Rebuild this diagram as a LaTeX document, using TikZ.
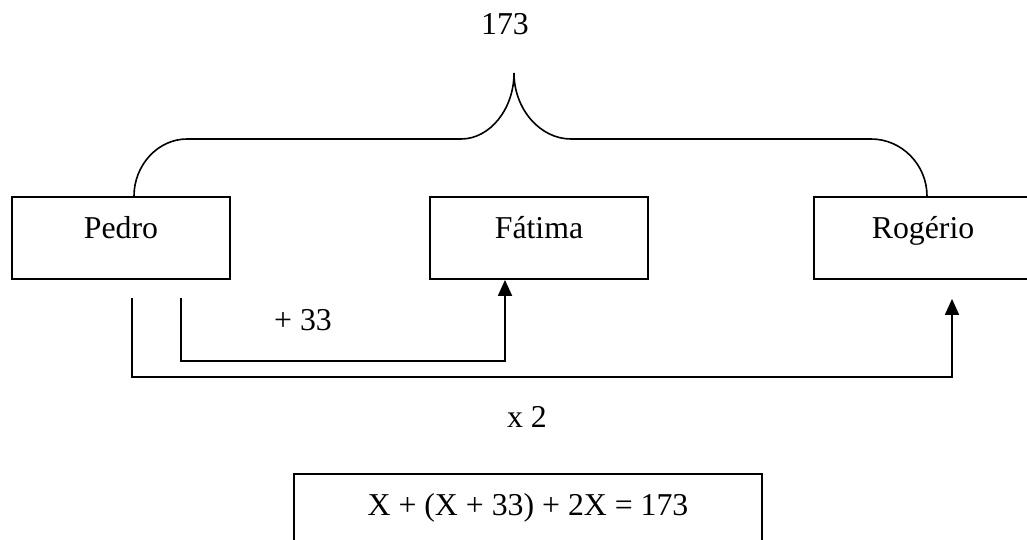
\documentclass[tikz,border=0pt]{standalone}
\usepackage{fontspec}
\setmainfont{Liberation Serif}
\usetikzlibrary{arrows.meta,calc}

\begin{document}
\begin{tikzpicture}[
 x=0.5pt,y=-0.5pt,
 every node/.style={font=\fontsize{15.9}{19}\selectfont},
 person/.style={draw,line width=0.9pt,minimum width=109pt,minimum height=41pt,
  inner sep=0pt,text height=6pt,text depth=6pt},
 link/.style={line width=0.9pt,-{Triangle[length=8pt,width=7pt]}}
]
 \useasboundingbox (0,0) rectangle (1027,540);

 \node[person] (pedro) at (121,238) {Pedro};
 \node[person] (fatima) at (539,238) {Fátima};
 \node[person] (rogerio) at (923,238) {Rogério};
 \node[person,minimum width=234pt] (eq) at (528,515) {X + (X + 33) + 2X = 173};

 % brace over the three boxes
 \coordinate (peak) at (514,73);
 \node (total) at (505,24) {173};
 \draw[line width=0.8pt] ($(pedro.north)+(13,0)$)
  .. controls (134,165) and (158,139) .. (187,139) -- (461,139)
  .. controls (490,139) and (514,109) .. (peak)
  .. controls (514,109) and (540,139) .. (571,139) -- (871,139)
  .. controls (902,139) and (927,165) .. ($(rogerio.north)+(4,0)$);

 % Pedro -> Fatima and Pedro -> Rogerio
 \draw[link] ($(pedro.south)+(60,18)$) |- ($(fatima.south)+(-34,81)$)
  -- ($(fatima.south)+(-34,0)$);
 \draw[link] ($(pedro.south)+(11,18)$) |- ($(rogerio.south)+(29,97)$)
  -- ($(rogerio.south)+(29,19)$);

 \node (plus) at (303,320) {+ 33};
 \node (times) at (527,417) {x 2};
\end{tikzpicture}
\end{document}
